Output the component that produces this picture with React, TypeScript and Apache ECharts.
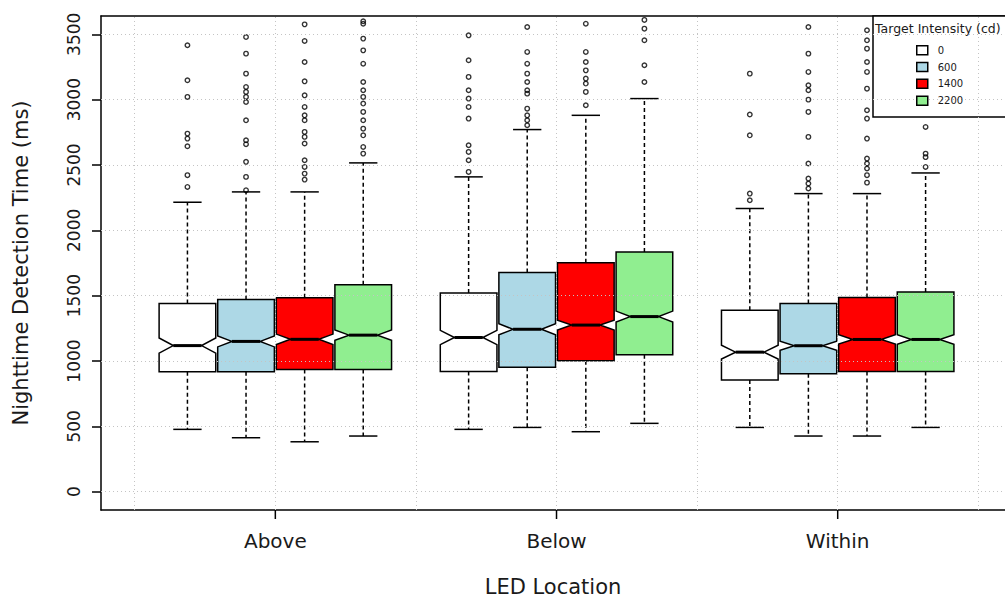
import React, { useEffect, useRef } from 'react';
import * as echarts from 'echarts';

// ---------------- data ----------------
const locations = ['Above', 'Below', 'Within'];
const intensities = ['0', '600', '1400', '2200'];
const boxColors = ['#FFFFFF', '#ADD8E6', '#FF0000', '#90EE90'];
const yTicks = [0, 500, 1000, 1500, 2000, 2500, 3000, 3500];
const xTicks = [1, 2, 3];
const xGridValues = [0.5, 1, 1.5, 2, 2.5, 3, 3.5];
const Y_MIN = -140;
const Y_MAX = 3640;
const X_MIN = 0.38;
const X_MAX = 3.595;

// per location: [lower whisker, Q1, notch low, median, notch high, Q3, upper whisker]
const stats0 = [
  [477, 918, 1060, 1118, 1176, 1441, 2215],
  [477, 920, 1125, 1180, 1235, 1520, 2409],
  [492, 854, 1015, 1068, 1121, 1389, 2167],
];
const stats600 = [
  [413, 918, 1108, 1150, 1192, 1471, 2294],
  [492, 952, 1201, 1243, 1285, 1678, 2771],
  [426, 902, 1082, 1117, 1152, 1441, 2281],
];
const stats1400 = [
  [382, 936, 1126, 1166, 1206, 1485, 2294],
  [459, 1002, 1237, 1275, 1313, 1752, 2880],
  [426, 920, 1129, 1165, 1201, 1486, 2281],
];
const stats2200 = [
  [426, 936, 1158, 1198, 1238, 1583, 2516],
  [523, 1048, 1298, 1340, 1382, 1835, 3008],
  [492, 920, 1128, 1165, 1202, 1529, 2439],
];

// outliers per location
const out0 = [
  [3416, 3148, 3021, 2740, 2702, 2643, 2422, 2332],
  [3492, 3301, 3174, 3072, 3008, 2944, 2855, 2651, 2600, 2536, 2447],
  [3199, 2886, 2727, 2281, 2230],
];
const out600 = [
  [3479, 3352, 3199, 3097, 3059, 3021, 2982, 2842, 2689, 2659, 2524, 2409, 2307],
  [3556, 3365, 3275, 3199, 3135, 3072, 3046, 2931, 2880, 2842, 2804],
  [3556, 3352, 3212, 3110, 3072, 3000, 2906, 2715, 2511, 2396, 2358, 2320],
];
const out1400 = [
  [3576, 3449, 3288, 3140, 3033, 2944, 2880, 2842, 2753, 2715, 2664, 2536, 2485, 2434, 2388],
  [3581, 3365, 3288, 3224, 3161, 3123, 3059, 2957],
  [3531, 3454, 3390, 3288, 3212, 3084, 2919, 2855, 2702, 2549, 2511, 2473, 2422, 2365],
];
const out2200 = [
  [3600, 3581, 3467, 3377, 3275, 3135, 3072, 3021, 2970, 2906, 2842, 2778, 2727, 2638, 2587],
  [3610, 3543, 3454, 3263, 3135],
  [3300, 3100, 2791, 2587, 2560, 2485],
];

const allStats = [stats0, stats600, stats1400, stats2200];
const allOut = [out0, out600, out1400, out2200];

// ---------------- layout constants ----------------
const BOX_STEP = 0.2084;
const BOX_W = 0.2015;
const FONT = 'DejaVu Sans';
const TXT = '#1a1a1a';
const TICK_LEN = 9;
const frameLine = { color: '#000', width: 1.5 };

const pos = (g: number, s: number) => g + 1 + (s - 1.5) * BOX_STEP;

function renderBox(color: string) {
  return (params: any, api: any) => {
    const x = api.value(0);
    const v = [1, 2, 3, 4, 5, 6, 7].map((i) => api.value(i));
    const c = (val: number) => api.coord([x, val]);
    const cx = c(v[3])[0];
    const yLow = c(v[0])[1];
    const yQ1 = c(v[1])[1];
    const yNLo = c(v[2])[1];
    const yMed = c(v[3])[1];
    const yNHi = c(v[4])[1];
    const yQ3 = c(v[5])[1];
    const yUp = c(v[6])[1];
    const hw = api.size([BOX_W, 0])[0] / 2;
    const cap = hw / 2;
    const dashed = { stroke: '#000', lineWidth: 1.5, lineDash: [4, 3] };
    const solid = { stroke: '#000', lineWidth: 1.5 };
    return {
      type: 'group',
      children: [
        { type: 'line', shape: { x1: cx, y1: yQ3, x2: cx, y2: yUp }, style: dashed },
        { type: 'line', shape: { x1: cx, y1: yQ1, x2: cx, y2: yLow }, style: dashed },
        { type: 'line', shape: { x1: cx - cap, y1: yUp, x2: cx + cap, y2: yUp }, style: solid },
        { type: 'line', shape: { x1: cx - cap, y1: yLow, x2: cx + cap, y2: yLow }, style: solid },
        {
          type: 'polygon',
          shape: {
            points: [
              [cx - hw, yQ3],
              [cx + hw, yQ3],
              [cx + hw, yNHi],
              [cx + hw / 2, yMed],
              [cx + hw, yNLo],
              [cx + hw, yQ1],
              [cx - hw, yQ1],
              [cx - hw, yNLo],
              [cx - hw / 2, yMed],
              [cx - hw, yNHi],
            ],
          },
          style: { fill: color, stroke: '#000', lineWidth: 1.5 },
        },
        {
          type: 'line',
          shape: { x1: cx - hw / 2, y1: yMed, x2: cx + hw / 2, y2: yMed },
          style: { stroke: '#000', lineWidth: 3 },
        },
      ],
    };
  };
}

export default function App() {
  const ref = useRef<HTMLDivElement>(null);

  useEffect(() => {
    document.body.style.margin = '0';
    if (!ref.current) return;
    const chart = echarts.init(ref.current, null, { renderer: 'svg' });

    const boxSeries = intensities.map((name, s) => ({
      name,
      type: 'custom',
      renderItem: renderBox(boxColors[s]),
      itemStyle: { color: boxColors[s], borderColor: '#000', borderWidth: 1.5 },
      encode: { x: 0, y: [1, 2, 3, 4, 5, 6, 7] },
      data: allStats[s].map((st, g) => [pos(g, s), ...st]),
      clip: true,
      z: 2,
    }));

    const outSeries = intensities.map((name, s) => ({
      name: 'outliers ' + name,
      type: 'scatter',
      symbol: 'circle',
      symbolSize: 4.5,
      itemStyle: { color: 'rgba(255,255,255,0)', borderColor: '#000', borderWidth: 1.4 },
      data: allOut[s].flatMap((vals, g) => vals.map((val) => [pos(g, s), val])),
      clip: true,
      z: 2,
    }));

    const gridLineStyle = { color: '#c4c4c4', width: 1, type: [1, 3] as any };

    const option: any = {
      animation: false,
      backgroundColor: '#fff',
      grid: { left: 101, right: 0, top: 16, bottom: 92, show: false },
      xAxis: [
        {
          type: 'value',
          position: 'bottom',
          min: X_MIN,
          max: X_MAX,
          axisLine: { show: true, onZero: false, lineStyle: frameLine },
          splitLine: { show: false },
          axisTick: { show: false },
          axisLabel: {
            customValues: xTicks,
            formatter: (v: number) => locations[Math.round(v) - 1] ?? '',
            fontFamily: FONT,
            fontSize: 20,
            color: TXT,
            margin: 21,
          },
          name: 'LED Location',
          nameLocation: 'middle',
          nameGap: 66,
          nameTextStyle: { fontFamily: FONT, fontSize: 21, color: TXT },
        },
        {
          type: 'value',
          position: 'top',
          min: X_MIN,
          max: X_MAX,
          axisLine: { show: true, onZero: false, lineStyle: frameLine },
          splitLine: { show: false },
          axisTick: { show: false },
          axisLabel: { show: false },
        },
      ],
      yAxis: {
        type: 'value',
        min: Y_MIN,
        max: Y_MAX,
        axisLine: { show: true, onZero: false, lineStyle: frameLine },
        splitLine: { show: false },
        axisTick: {
          show: true,
          customValues: yTicks,
          length: TICK_LEN,
          lineStyle: frameLine,
        },
        axisLabel: {
          customValues: yTicks,
          formatter: (v: number) => String(v),
          rotate: 90,
          fontFamily: FONT,
          fontSize: 17,
          color: TXT,
          margin: 19,
        },
        name: 'Nighttime Detection Time (ms)',
        nameLocation: 'middle',
        nameGap: 70,
        nameRotate: 90,
        nameTextStyle: { fontFamily: FONT, fontSize: 21, color: TXT },
      },
      legend: {
        data: intensities,
        orient: 'vertical',
        left: 916,
        top: 45,
        padding: 0,
        itemWidth: 11,
        itemHeight: 9,
        itemGap: 6.3,
        icon: 'rect',
        selectedMode: false,
        itemStyle: { borderColor: '#000', borderWidth: 1.5 },
        textStyle: { fontFamily: FONT, fontSize: 10, lineHeight: 10, color: TXT, padding: [0, 0, 0, 5] },
        z: 6,
      },
      series: [
        {
          name: 'grid',
          type: 'line',
          data: [],
          z: 1,
          silent: true,
          markLine: {
            silent: true,
            symbol: ['none', 'none'],
            label: { show: false },
            lineStyle: gridLineStyle,
            emphasis: { disabled: true },
            data: [
              ...xGridValues.map((v) => ({ xAxis: v })),
              ...yTicks.map((v) => ({ yAxis: v })),
            ],
          },
        },
        ...boxSeries,
        ...outSeries,
      ],
    };

    chart.setOption(option);

    // x-axis tick marks at the category positions, placed through the axis scale
    const tickLines = xTicks.map((t, i) => {
      const p = chart.convertToPixel({ gridIndex: 0 }, [t, Y_MIN]) as number[];
      return {
        id: 'xtick' + i,
        type: 'line',
        shape: { x1: p[0], y1: p[1], x2: p[0], y2: p[1] + TICK_LEN },
        style: { stroke: '#000', lineWidth: 1.5 },
        z: 100,
      };
    });
    chart.setOption({
      graphic: [
        {
          id: 'legendBox',
          type: 'rect',
          shape: { x: 873, y: 16, width: 200, height: 101 },
          style: { fill: '#fff', stroke: '#000', lineWidth: 1.5 },
          z: 3,
        },
        {
          id: 'legendTitle',
          type: 'text',
          x: 875,
          y: 28,
          style: {
            text: 'Target Intensity (cd)',
            fontFamily: FONT,
            fontSize: 12.5,
            fill: TXT,
            verticalAlign: 'middle',
          },
          z: 5,
        },
        ...tickLines,
      ],
    });

    return () => chart.dispose();
  }, []);

  return <div ref={ref} style={{ width: 1005, height: 602, background: '#fff' }} />;
}
